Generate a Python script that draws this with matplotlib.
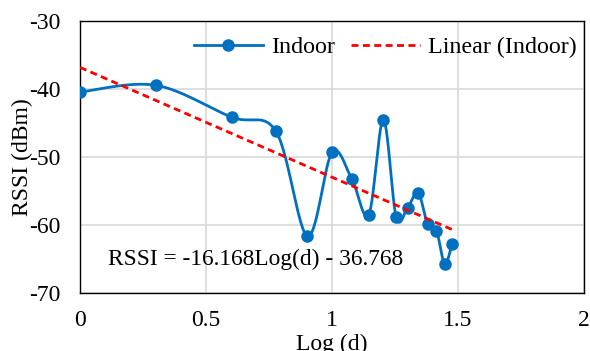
import numpy as np
import matplotlib
matplotlib.use("Agg")
import matplotlib.pyplot as plt
from matplotlib.lines import Line2D

plt.rcParams['font.family'] = ['Liberation Serif', 'DejaVu Serif']
plt.rcParams['axes.unicode_minus'] = False

log_d = [0.0, 0.301, 0.602, 0.778, 0.903, 1.0, 1.079, 1.146, 1.204, 1.255,
         1.301, 1.342, 1.380, 1.415, 1.447, 1.477]
rssi = [-40.4, -39.4, -44.1, -46.2, -61.6, -49.3, -53.2, -58.5, -44.5, -58.8,
        -57.4, -55.2, -59.9, -60.8, -65.7, -62.8]
slope, intercept = -16.168, -36.768
eq_text = "RSSI = -16.168Log(d) - 36.768"

blue = '#0070C0'
red = '#FF0000'

def smooth(x, y, n=30):
    x = np.asarray(x); y = np.asarray(y)
    P = np.column_stack([x, y])
    out = []
    m = len(P)
    for i in range(m - 1):
        p0 = P[i - 1] if i > 0 else P[i]
        p1 = P[i]; p2 = P[i + 1]
        p3 = P[i + 2] if i + 2 < m else P[i + 1]
        c1 = p1 + (p2 - p0) / 6.0
        c2 = p2 - (p3 - p1) / 6.0
        t = np.linspace(0, 1, n)[:, None]
        seg = ((1 - t) ** 3) * p1 + 3 * ((1 - t) ** 2) * t * c1 + 3 * (1 - t) * t ** 2 * c2 + t ** 3 * p2
        out.append(seg if i == 0 else seg[1:])
    s = np.vstack(out)
    return s[:, 0], s[:, 1]

fig = plt.figure(figsize=(5.9, 3.51), dpi=100)
ax = fig.add_axes([0.1356, 0.165, 0.854, 0.774])

LW = 2.0
MS = 8.0
DASH = (0, (2.5, 1.6))

sx, sy = smooth(log_d, rssi)
ax.plot(sx, sy, color=blue, lw=LW, zorder=3)
ax.plot(log_d, rssi, 'o', color=blue, ms=MS, zorder=4)

tx = np.array([0.0, max(log_d)])
ax.plot(tx, slope * tx + intercept, color=red, lw=LW, ls=DASH, zorder=5)

ax.set_xlim(0, 2)
ax.set_ylim(-70, -30)
ax.set_xticks([0, 0.5, 1, 1.5, 2])
ax.set_xticklabels(['0', '0.5', '1', '1.5', '2'])
ax.set_yticks([-70, -60, -50, -40, -30])
ax.grid(True, color='#D9D9D9', lw=1.2)
ax.set_axisbelow(True)
ax.tick_params(length=0, labelsize=17)
ax.tick_params(axis='x', pad=12)
ax.tick_params(axis='y', pad=14)
for s in ax.spines.values():
    s.set_color('black'); s.set_linewidth(1.0)
ax.set_xlabel('Log (d)', fontsize=17, labelpad=2)
ax.set_ylabel('RSSI (dBm)', fontsize=17, labelpad=-3)

ax.text(0.11, -65.0, eq_text, fontsize=16.8, va='center', ha='left')

handles = [Line2D([], [], color=blue, lw=LW, marker='o', ms=MS),
           Line2D([], [], color=red, lw=LW, ls=DASH)]
ax.legend(handles, ['Indoor', 'Linear (Indoor)'], loc='center left', bbox_to_anchor=(0.226, 0.905),
          ncol=2, frameon=False, fontsize=17.3, handlelength=2.87, columnspacing=0.67,
          handletextpad=0.33, borderpad=0, borderaxespad=0)

fig.savefig('out.png', dpi=100)
